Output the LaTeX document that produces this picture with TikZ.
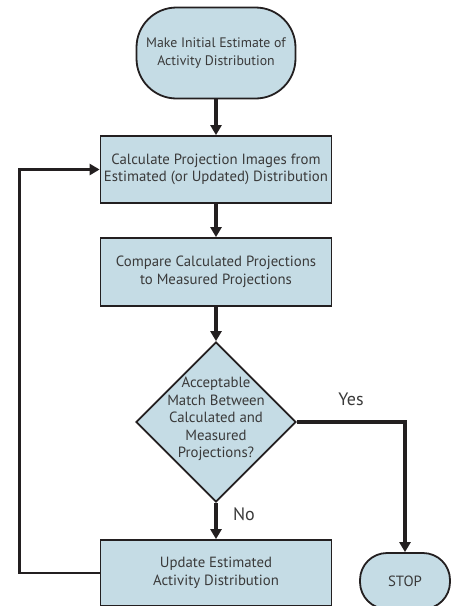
\documentclass[tikz,border=0pt]{standalone}
\usepackage{fontspec}
\setmainfont{PT Sans}
\usetikzlibrary{arrows.meta,shapes.geometric,positioning}
\definecolor{boxfill}{HTML}{C5DCE5}
\definecolor{inkline}{HTML}{231F20}
\definecolor{inktext}{HTML}{3A3A3A}

\begin{document}
\begin{tikzpicture}[x=1pt,y=-1pt,>={Triangle[width=11pt,length=10pt]},
  font=\fontsize{14.8}{17.6}\selectfont,
  base/.style={draw=inkline,fill=boxfill,line width=1.8pt,text=inktext,align=center,inner sep=0pt},
  stepbox/.style={base,minimum width=231pt,minimum height=67pt},
  terminal/.style={base,rounded corners=40pt},
  decision/.style={base,diamond,minimum width=160pt,minimum height=160pt},
  flow/.style={->,draw=inkline,line width=3.4pt},
  answer/.style={text=inktext,font=\fontsize{18}{20}\selectfont}]
\useasboundingbox (0,0) rectangle (457,606);
% start, then the three steps down the middle
\node[terminal,minimum width=159pt,minimum height=91pt,font=\fontsize{13.8}{17.6}\selectfont] (start) at (216,53) {Make Initial Estimate of\\Activity Distribution};
\node[stepbox] (calc) at (216,169.5) {Calculate Projection Images from\\Estimated (or Updated) Distribution};
\node[stepbox,minimum height=68pt] (compare) at (216,272) {Compare Calculated Projections\\to Measured Projections};
\node[decision] (dec) at (216,422) {};
\node[text=inktext,align=center] (dectext) at (216,419) {Acceptable\\Match Between\\Calculated and\\Measured\\Projections?};
\node[stepbox,minimum height=66pt] (update) at (216,573) {Update Estimated\\Activity Distribution};
% stop on the right
\node[terminal,rounded corners=27pt,minimum width=90pt,minimum height=56pt] (stop) at (405,581) {STOP};
% arrows
\draw[flow] (start.south) -- (calc.north);
\draw[flow] (calc.south) -- (compare.north);
\draw[flow] (compare.south) -- (dec.north);
\draw[flow] (dec.south) -- (update.north) node[answer,pos=0.3,right=12pt]{No};
\draw[flow] (dec.east) -| (stop.north) node[answer,pos=0.25,above=11pt]{Yes};
% loop back
\draw[flow,line width=2.8pt] (update.west) -- ++(-80,0) |- (calc.west);
\end{tikzpicture}
\end{document}
